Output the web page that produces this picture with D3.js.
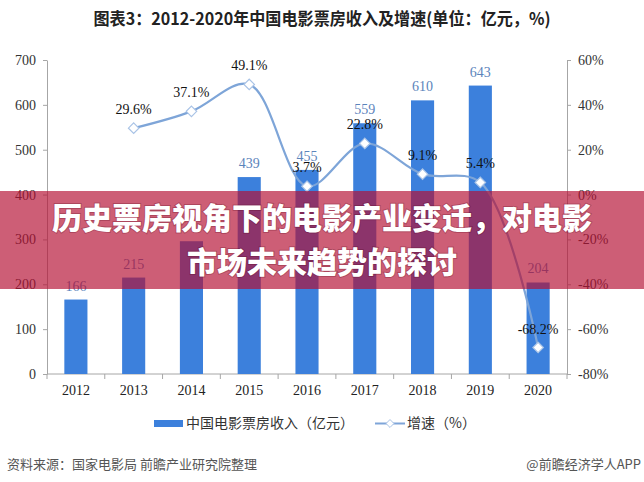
<!DOCTYPE html>
<html lang="zh">
  <head>
    <meta charset="UTF-8" />
    <title>2012-2020年中国电影票房收入及增速</title>
    <script src="https://d3js.org/d3.v7.min.js"></script>
    <style>
      body {
        margin: 0;
        background: #fff;
      }
      svg {
        display: block;
      }
      .cjk {
        font-family: "Noto Sans CJK SC", "Noto Sans", sans-serif;
      }
      .num {
        font-family: "Liberation Serif", "DejaVu Serif", serif;
      }
    </style>
  </head>
  <body>
    <svg id="chart" width="644" height="482"></svg>
    <script>
      const years = [2012, 2013, 2014, 2015, 2016, 2017, 2018, 2019, 2020];
      const revenue = [166, 215, 296, 439, 455, 559, 610, 643, 204];
      // 增速，2012年无数据
      const growth = [null, 29.6, 37.1, 49.1, 3.7, 22.8, 9.1, 5.4, -68.2];
      const leftTicks = [0, 100, 200, 300, 400, 500, 600, 700];
      const rightTicks = [-80, -60, -40, -20, 0, 20, 40, 60];

      const W = 644;
      const H = 482;
      const plot = { left: 47, right: 567, top: 60, bottom: 374 };

      const svg = d3.select("#chart");

      const x = d3
        .scaleBand()
        .domain(years)
        .range([plot.left, plot.right])
        .paddingInner(0)
        .paddingOuter(0);
      const yL = d3.scaleLinear().domain([0, 700]).range([plot.bottom, plot.top]);
      const yR = d3.scaleLinear().domain([-80, 60]).range([plot.bottom, plot.top]);

      const barColor = "#3c80dc";
      const lineColor = "#7ea5d8";
      const axisColor = "#a6a6a6";

      // 标题
      svg
        .append("text")
        .attr("class", "cjk")
        .attr("x", W / 2)
        .attr("y", 25)
        .attr("text-anchor", "middle")
        .attr("textLength", 457)
        .attr("lengthAdjust", "spacingAndGlyphs")
        .style("font-size", "17px")
        .style("font-weight", "bold")
        .style("fill", "#222")
        .text("图表3：2012-2020年中国电影票房收入及增速(单位：亿元，%)");

      // 左轴
      const gL = svg
        .append("g")
        .attr("transform", `translate(${plot.left},0)`)
        .call(d3.axisLeft(yL).tickValues(leftTicks).tickSize(4).tickSizeOuter(0).tickPadding(7));
      gL.select(".domain").attr("stroke", axisColor);
      gL.selectAll(".tick line").attr("stroke", axisColor);
      gL.selectAll("text")
        .attr("class", "num")
        .style("font-size", "14px")
        .style("fill", "#333");

      // 右轴
      const gR = svg
        .append("g")
        .attr("transform", `translate(${plot.right},0)`)
        .call(
          d3
            .axisRight(yR)
            .tickValues(rightTicks)
            .tickSize(4)
            .tickSizeOuter(0)
            .tickPadding(7)
            .tickFormat((d) => (d < 0 ? "-" + Math.abs(d) : d) + "%")
        );
      gR.select(".domain").attr("stroke", axisColor);
      gR.selectAll(".tick line").attr("stroke", axisColor);
      gR.selectAll("text")
        .attr("class", "num")
        .style("font-size", "14px")
        .style("fill", "#333");

      // 横轴
      const gX = svg.append("g");
      gX.append("line")
        .attr("x1", plot.left)
        .attr("x2", plot.right)
        .attr("y1", plot.bottom)
        .attr("y2", plot.bottom)
        .attr("stroke", axisColor);
      gX.selectAll(".xt")
        .data(years.concat(["end"]))
        .join("line")
        .attr("x1", (d, i) => plot.left + i * x.step())
        .attr("x2", (d, i) => plot.left + i * x.step())
        .attr("y1", plot.bottom)
        .attr("y2", plot.bottom + 5)
        .attr("stroke", axisColor);
      gX.selectAll(".xl")
        .data(years)
        .join("text")
        .attr("class", "num")
        .attr("x", (d) => x(d) + x.bandwidth() / 2)
        .attr("y", plot.bottom + 21)
        .attr("text-anchor", "middle")
        .style("font-size", "14px")
        .style("fill", "#222")
        .text((d) => d);

      // 柱
      const bw = x.bandwidth() * 0.4;
      const data = years.map((yr, i) => ({ year: yr, rev: revenue[i], g: growth[i] }));
      svg
        .append("g")
        .selectAll("rect")
        .data(data)
        .join("rect")
        .attr("x", (d) => x(d.year) + (x.bandwidth() - bw) / 2)
        .attr("y", (d) => yL(d.rev))
        .attr("width", bw)
        .attr("height", (d) => yL(0) - yL(d.rev))
        .attr("fill", barColor);

      svg
        .append("g")
        .selectAll("text")
        .data(data.filter((d) => d.year !== 2014))
        .join("text")
        .attr("class", "num")
        .attr("x", (d) => x(d.year) + x.bandwidth() / 2)
        .attr("y", (d) => yL(d.rev) - 9)
        .attr("text-anchor", "middle")
        .style("font-size", "14px")
        .style("fill", "#5b84bb")
        .text((d) => d.rev);

      // 增速曲线
      const gd = data.filter((d) => d.g !== null);
      const line = d3
        .line()
        .x((d) => x(d.year) + x.bandwidth() / 2)
        .y((d) => yR(d.g))
        .curve(d3.curveCatmullRom.alpha(0.5));
      svg
        .append("path")
        .datum(gd)
        .attr("d", line)
        .attr("fill", "none")
        .attr("stroke", lineColor)
        .attr("stroke-width", 2.2);

      const diamond = d3.symbol().type(d3.symbolDiamond2).size(70);
      svg
        .append("g")
        .selectAll("path")
        .data(gd)
        .join("path")
        .attr("d", diamond)
        .attr("transform", (d) => `translate(${x(d.year) + x.bandwidth() / 2},${yR(d.g)})`)
        .attr("fill", "#fff")
        .attr("stroke", "#a9c3e6")
        .attr("stroke-width", 1.2);

      svg
        .append("g")
        .selectAll("text")
        .data(gd)
        .join("text")
        .attr("class", "num")
        .attr("x", (d) => x(d.year) + x.bandwidth() / 2)
        .attr("y", (d) => yR(d.g) - 14)
        .attr("text-anchor", "middle")
        .style("font-size", "14px")
        .style("fill", "#111")
        .text((d) => d.g.toFixed(1) + "%");

      // 图例
      const lg = svg.append("g").attr("class", "cjk").style("font-size", "14px").style("fill", "#333");
      lg.append("rect").attr("x", 154).attr("y", 420).attr("width", 29).attr("height", 7).attr("fill", barColor);
      lg.append("text").attr("x", 186).attr("y", 428).text("中国电影票房收入（亿元）");
      lg.append("line")
        .attr("x1", 375)
        .attr("x2", 405)
        .attr("y1", 423.5)
        .attr("y2", 423.5)
        .attr("stroke", lineColor)
        .attr("stroke-width", 2);
      lg.append("path")
        .attr("d", d3.symbol().type(d3.symbolDiamond2).size(40))
        .attr("transform", "translate(390,423.5)")
        .attr("fill", "#fff")
        .attr("stroke", "#a9c3e6");
      lg.append("text").attr("x", 407).attr("y", 428).text("增速（%）");

      // 来源
      svg
        .append("text")
        .attr("class", "cjk")
        .attr("x", 7)
        .attr("y", 469)
        .style("font-size", "13px")
        .style("fill", "#555")
        .text("资料来源：国家电影局 前瞻产业研究院整理");
      svg
        .append("text")
        .attr("class", "cjk")
        .attr("x", 641)
        .attr("y", 469)
        .attr("text-anchor", "end")
        .style("font-size", "13px")
        .style("fill", "#555")
        .text("@前瞻经济学人APP");

      // 红色横幅
      svg
        .append("rect")
        .attr("x", 0)
        .attr("y", 191)
        .attr("width", W)
        .attr("height", 98)
        .attr("fill", "rgba(180,15,50,0.67)");

      const banner = ["历史票房视角下的电影产业变迁，对电影", "市场未来趋势的探讨"];
      svg
        .append("g")
        .selectAll("text")
        .data(banner)
        .join("text")
        .attr("class", "cjk")
        .attr("x", W / 2)
        .attr("y", (d, i) => 229 + i * 44)
        .attr("text-anchor", "middle")
        .style("font-size", "30px")
        .style("font-weight", "900")
        .style("fill", "#fff")
        .style("paint-order", "stroke")
        .style("stroke", "rgba(80,0,20,0.25)")
        .style("stroke-width", "2px")
        .text((d) => d);
    </script>
  </body>
</html>
